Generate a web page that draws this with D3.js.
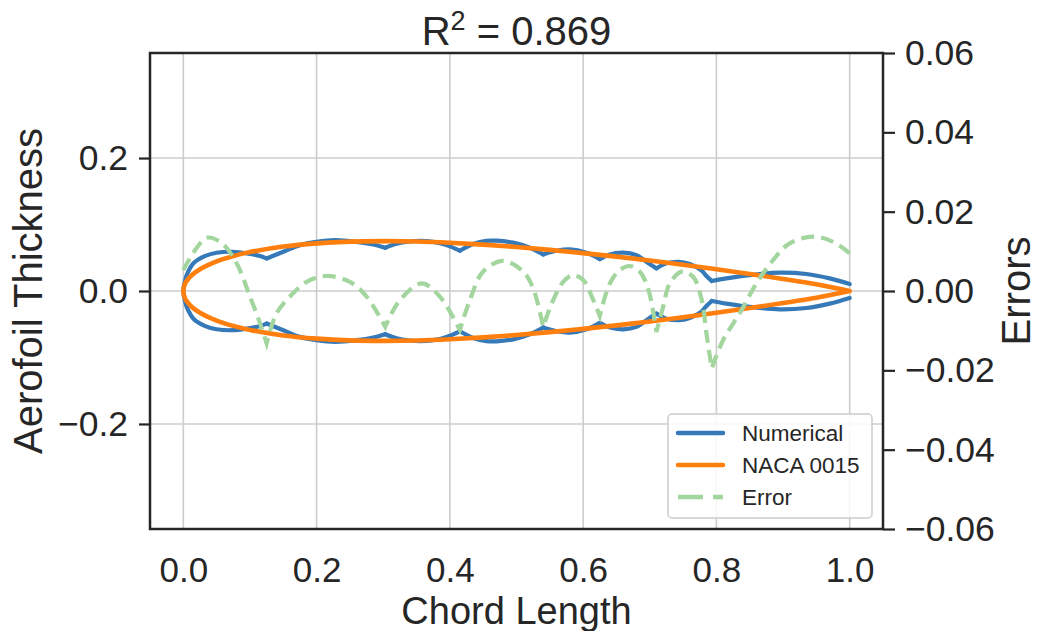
<!DOCTYPE html>
<html>
<head>
<meta charset="utf-8">
<script src="https://cdn.jsdelivr.net/npm/d3@7"></script>
<style>
  html, body { margin: 0; padding: 0; background: #ffffff; }
  svg { display: block; font-family: "Liberation Sans", Arial, sans-serif; }
</style>
</head>
<body>
<svg id="chart" width="1037" height="631"></svg>
<script>
// Chord stations and half-thickness of the numerical aerofoil surface
const numX = [0, 0.003, 0.0055, 0.0155, 0.033, 0.05, 0.073, 0.0955, 0.115, 0.125,
  0.15, 0.175, 0.2, 0.228, 0.26, 0.285, 0.303,
  0.32, 0.34, 0.355, 0.375, 0.395, 0.415,
  0.435, 0.455, 0.47, 0.495, 0.52, 0.54,
  0.56, 0.58, 0.605, 0.625,
  0.64, 0.66, 0.68, 0.698, 0.71,
  0.725, 0.743, 0.76, 0.778, 0.785, 0.793,
  0.815, 0.85, 0.895, 0.935, 0.97, 1.0];
const numT = [0, 0.017, 0.025, 0.042, 0.0528, 0.0576, 0.059, 0.0566, 0.0526, 0.049,
  0.059, 0.069, 0.074, 0.0765, 0.074, 0.070, 0.065,
  0.071, 0.0745, 0.0756, 0.074, 0.069, 0.0606,
  0.0707, 0.0755, 0.0757, 0.0727, 0.065, 0.055,
  0.0606, 0.0627, 0.0576, 0.048,
  0.055, 0.0576, 0.054, 0.0416, 0.034,
  0.0416, 0.044, 0.0406, 0.0305, 0.0226, 0.015,
  0.019, 0.024, 0.0276, 0.0256, 0.019, 0.0105];

// NACA 0015 half-thickness ordinates
const nacaX = [0, 0.0025, 0.005, 0.0125, 0.025, 0.05, 0.075, 0.1, 0.15, 0.2, 0.25, 0.3,
  0.35, 0.4, 0.45, 0.5, 0.55, 0.6, 0.65, 0.7, 0.75, 0.8, 0.85, 0.9, 0.95, 1.0];
const nacaT = [0, 0.0109, 0.0153, 0.0237, 0.0327, 0.0444, 0.0525, 0.0585, 0.0668, 0.0717,
  0.0743, 0.0750, 0.0744, 0.0725, 0.0698, 0.0662, 0.0619, 0.0570, 0.0517, 0.0458,
  0.0395, 0.0328, 0.0257, 0.0181, 0.0101, 0.0];

// Error between the two profiles (right axis)
const errX = [0, 0.035, 0.058, 0.08, 0.1, 0.115, 0.125,
  0.14, 0.16, 0.185, 0.215, 0.25, 0.275, 0.303,
  0.325, 0.358, 0.385, 0.415,
  0.43, 0.45, 0.48, 0.51, 0.525, 0.54,
  0.555, 0.57, 0.585, 0.6, 0.613, 0.625,
  0.64, 0.655, 0.67, 0.685, 0.698, 0.71,
  0.72, 0.73, 0.748, 0.765, 0.778, 0.785, 0.793,
  0.81, 0.835, 0.86, 0.885, 0.91, 0.945, 0.975, 1.0];
const errV = [0.0053, 0.0134, 0.012, 0.007, -0.0014, -0.0081, -0.0132,
  -0.0056, -0.0014, 0.0023, 0.0038, 0.0023, -0.0014, -0.009,
  -0.0023, 0.0019, -0.0014, -0.0098,
  -0.0023, 0.0049, 0.0076, 0.0049, 0.0007, -0.009,
  -0.0023, 0.0023, 0.004, 0.0028, -0.0014, -0.0063,
  0.0019, 0.0053, 0.0063, 0.0049, 0.0003, -0.0103,
  -0.004, 0.0019, 0.0049, 0.0036, -0.0023, -0.0107, -0.0195,
  -0.0124, -0.0056, 0.0019, 0.0078, 0.012, 0.0137, 0.0124, 0.0095];

const xTicks = [0, 0.2, 0.4, 0.6, 0.8, 1.0];
const yTicks = [-0.2, 0, 0.2];
const y2Ticks = [-0.06, -0.04, -0.02, 0, 0.02, 0.04, 0.06];
const seriesNames = ["Numerical", "NACA 0015", "Error"];

const C_NUM = "#3579b8", C_NACA = "#ff7f0e", C_ERR = "#a2d69e", INK = "#262626";
const FONT = "'Liberation Sans', Arial, sans-serif";

const svg = d3.select("#chart");
const L = 150, R = 883, T = 53, B = 529;

const x = d3.scaleLinear([-0.05, 1.05], [L, R]);
const y = d3.scaleLinear([-0.358, 0.358], [B, T]);
const y2 = d3.scaleLinear([-0.06, 0.06], [B, T]);

// grid
const grid = svg.append("g");
grid.selectAll("line.v").data(xTicks).join("line")
  .attr("x1", d => x(d)).attr("x2", d => x(d)).attr("y1", T).attr("y2", B)
  .attr("stroke", "#cccccc").attr("stroke-width", 1.6);
grid.selectAll("line.h").data(yTicks).join("line")
  .attr("y1", d => y(d)).attr("y2", d => y(d)).attr("x1", L).attr("x2", R)
  .attr("stroke", "#cccccc").attr("stroke-width", 1.6);

// split a profile into smooth pieces at its interior local minima (the kinks)
function splitAtKinks(pts) {
  const pieces = [];
  let cur = [pts[0]];
  for (let i = 1; i < pts.length; i++) {
    cur.push(pts[i]);
    if (i < pts.length - 1 && pts[i][1] < pts[i - 1][1] && pts[i][1] < pts[i + 1][1]) {
      pieces.push(cur);
      cur = [pts[i]];
    }
  }
  pieces.push(cur);
  return pieces;
}

const line = d3.line().x(d => x(d[0])).y(d => y(d[1])).curve(d3.curveCatmullRom.alpha(0.5));
const line2 = d3.line().x(d => x(d[0])).y(d => y2(d[1])).curve(d3.curveCatmullRom.alpha(0.5));

const plot = svg.append("g");

// Numerical profile: upper and lower surfaces, the first piece wraps round the nose
const numPts = numX.map((v, i) => [v, numT[i]]);
const numPieces = splitAtKinks(numPts);
numPieces.forEach((p, k) => {
  let paths;
  if (k === 0) {
    const lower = p.map(d => [d[0], -d[1]]).reverse();
    paths = [lower.concat(p.slice(1))];
  } else {
    paths = [p, p.map(d => [d[0], -d[1]])];
  }
  paths.forEach(pp => plot.append("path").attr("d", line(pp))
    .attr("fill", "none").attr("stroke", C_NUM).attr("stroke-width", 4.2)
    .attr("stroke-linejoin", "round").attr("stroke-linecap", "round"));
});

// NACA 0015 closed outline
const nacaUpper = nacaX.map((v, i) => [v, nacaT[i]]);
const nacaLoop = nacaUpper.slice().reverse().concat(nacaUpper.slice(1).map(d => [d[0], -d[1]]));
plot.append("path").attr("d", line(nacaLoop))
  .attr("fill", "none").attr("stroke", C_NACA).attr("stroke-width", 4.6)
  .attr("stroke-linejoin", "round").attr("stroke-linecap", "round");

// Error curve on the secondary axis
const errPts = errX.map((v, i) => [v, errV[i]]);
const errPieces = splitAtKinks(errPts);
const errPath = errPieces.map((p, k) => {
  const dd = line2(p);
  return k === 0 ? dd : "L" + dd.slice(1);
}).join("");
plot.append("path").attr("d", errPath)
  .attr("fill", "none").attr("stroke", C_ERR).attr("stroke-width", 4.2)
  .attr("stroke-dasharray", "13,7");

// spines
svg.append("rect").attr("x", L).attr("y", T).attr("width", R - L).attr("height", B - T)
  .attr("fill", "none").attr("stroke", INK).attr("stroke-width", 2.5);

const fmt1 = d3.format(".1f"), fmt2 = d3.format(".2f");

// axes
const ax = svg.append("g").attr("transform", `translate(0,${B})`)
  .call(d3.axisBottom(x).tickValues(xTicks).tickFormat(fmt1).tickSize(0).tickPadding(53));
const ay = svg.append("g").attr("transform", `translate(${L},0)`)
  .call(d3.axisLeft(y).tickValues(yTicks).tickFormat(fmt1).tickSize(11).tickPadding(11));
const ay2 = svg.append("g").attr("transform", `translate(${R},0)`)
  .call(d3.axisRight(y2).tickValues(y2Ticks).tickFormat(fmt2).tickSize(12).tickPadding(10));
[ax, ay, ay2].forEach(g => {
  g.select(".domain").remove();
  g.selectAll(".tick line").attr("stroke", INK).attr("stroke-width", 2.2);
  g.selectAll(".tick text").attr("fill", INK).style("font-size", "35.5px")
    .style("font-family", FONT);
});
ax.selectAll(".tick text").attr("dy", "0").style("font-size", "35px");

// titles
svg.append("text").attr("x", (L + R) / 2).attr("y", 45).attr("text-anchor", "middle")
  .attr("fill", INK).style("font-size", "40px")
  .call(t => {
    t.append("tspan").text("R");
    t.append("tspan").attr("dy", -15).style("font-size", "27px").text("2");
    t.append("tspan").attr("dy", 15).text(" = 0.869");
  });
svg.append("text").attr("x", (L + R) / 2).attr("y", 624).attr("text-anchor", "middle")
  .attr("fill", INK).style("font-size", "38px").text("Chord Length");
svg.append("text").attr("transform", `translate(42,${(T + B) / 2}) rotate(-90)`)
  .attr("text-anchor", "middle").attr("fill", INK).style("font-size", "40px")
  .text("Aerofoil Thickness");
svg.append("text").attr("transform", `translate(1030,${(T + B) / 2}) rotate(-90)`)
  .attr("text-anchor", "middle").attr("fill", INK).style("font-size", "40px")
  .text("Errors");

// legend
const lg = svg.append("g").attr("transform", "translate(668,414)");
lg.append("rect").attr("width", 204).attr("height", 104).attr("rx", 4)
  .attr("fill", "#ffffff").attr("fill-opacity", 0.85)
  .attr("stroke", "#cccccc").attr("stroke-width", 1.5);
const lgStyles = [
  { c: C_NUM, w: 4.5, dash: null },
  { c: C_NACA, w: 4.5, dash: null },
  { c: C_ERR, w: 4.5, dash: "25,10" }
];
seriesNames.forEach((name, i) => {
  const cy = 19 + i * 32;
  lg.append("line").attr("x1", 10).attr("x2", 55).attr("y1", cy).attr("y2", cy)
    .attr("stroke", lgStyles[i].c).attr("stroke-width", lgStyles[i].w)
    .attr("stroke-dasharray", lgStyles[i].dash)
    .attr("stroke-linecap", lgStyles[i].dash ? "butt" : "round");
  lg.append("text").attr("x", 74).attr("y", cy + 8).attr("fill", INK)
    .style("font-size", "22.5px").text(name);
});
</script>
</body>
</html>
